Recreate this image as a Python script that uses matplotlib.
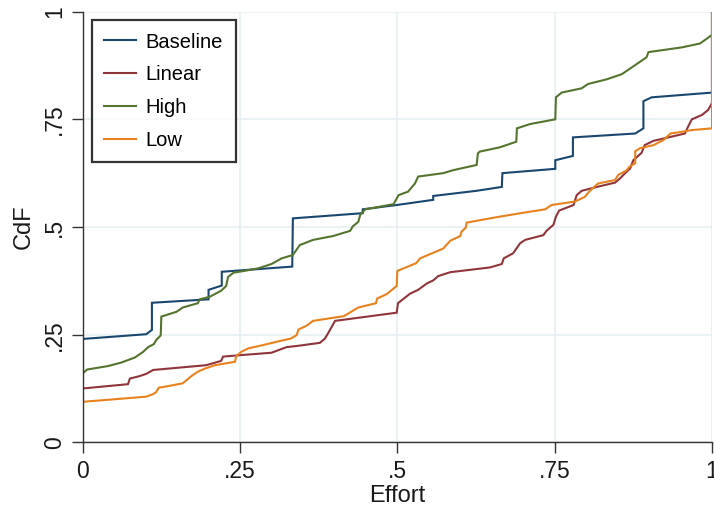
import matplotlib
matplotlib.use("Agg")
import matplotlib.pyplot as plt

plt.rcParams['font.family'] = ['Liberation Sans', 'DejaVu Sans']

# Baseline (x = effort, y = cumulative share)
base_x = [0, 0, 0.101, 0.110, 0.110, 0.200, 0.200, 0.221, 0.221, 0.333, 0.334, 0.445, 0.445,
          0.499, 0.557, 0.557, 0.626, 0.666, 0.667, 0.751, 0.751, 0.779, 0.779, 0.878, 0.891,
          0.891, 0.904, 1.0, 1.0]
base_y = [0, 0.240, 0.251, 0.261, 0.324, 0.332, 0.354, 0.364, 0.396, 0.408, 0.520, 0.532, 0.541,
          0.551, 0.563, 0.572, 0.584, 0.593, 0.625, 0.635, 0.655, 0.665, 0.708, 0.717, 0.729,
          0.792, 0.801, 0.812, 1.0]

lin_x = [0, 0, 0.072, 0.075, 0.091, 0.101, 0.112, 0.196, 0.220, 0.223, 0.247, 0.300, 0.324, 0.342,
         0.377, 0.385, 0.393, 0.401, 0.499, 0.501, 0.520, 0.533, 0.547, 0.557, 0.565, 0.584,
         0.647, 0.666, 0.669, 0.684, 0.695, 0.703, 0.732, 0.737, 0.748, 0.752, 0.757, 0.780,
         0.785, 0.793, 0.817, 0.846, 0.854, 0.862, 0.870, 0.875, 0.888, 0.893, 0.907, 0.957,
         0.962, 0.968, 0.984, 0.994, 1.0, 1.0]
lin_y = [0, 0.125, 0.135, 0.148, 0.154, 0.159, 0.168, 0.179, 0.189, 0.199, 0.202, 0.208, 0.221, 0.224,
         0.231, 0.241, 0.261, 0.282, 0.301, 0.323, 0.345, 0.354, 0.369, 0.376, 0.386, 0.395,
         0.406, 0.414, 0.427, 0.439, 0.462, 0.470, 0.481, 0.491, 0.505, 0.524, 0.538, 0.551,
         0.574, 0.584, 0.593, 0.603, 0.613, 0.625, 0.636, 0.655, 0.672, 0.690, 0.700, 0.717,
         0.733, 0.750, 0.760, 0.772, 0.788, 1.0]

high_x = [0, 0, 0.007, 0.040, 0.061, 0.083, 0.096, 0.104, 0.113, 0.117, 0.124, 0.125, 0.149, 0.159,
          0.183, 0.186, 0.202, 0.220, 0.228, 0.231, 0.240, 0.257, 0.279, 0.300, 0.316, 0.334,
          0.345, 0.366, 0.398, 0.425, 0.429, 0.438, 0.441, 0.449, 0.472, 0.494, 0.502, 0.517,
          0.528, 0.533, 0.573, 0.589, 0.626, 0.628, 0.631, 0.663, 0.689, 0.690, 0.711, 0.751,
          0.752, 0.761, 0.793, 0.803, 0.833, 0.857, 0.896, 0.899, 0.952, 0.981, 1.0, 1.0]
high_y = [0, 0.160, 0.169, 0.177, 0.185, 0.197, 0.210, 0.221, 0.228, 0.238, 0.248, 0.292, 0.303, 0.313,
          0.323, 0.332, 0.338, 0.352, 0.363, 0.384, 0.394, 0.398, 0.404, 0.414, 0.427, 0.435,
          0.458, 0.470, 0.479, 0.491, 0.501, 0.512, 0.528, 0.541, 0.547, 0.553, 0.574, 0.582,
          0.601, 0.617, 0.625, 0.632, 0.644, 0.671, 0.675, 0.685, 0.698, 0.729, 0.739, 0.750,
          0.801, 0.812, 0.822, 0.832, 0.843, 0.855, 0.894, 0.906, 0.917, 0.926, 0.946, 1.0]

low_x = [0, 0, 0.101, 0.112, 0.117, 0.121, 0.130, 0.159, 0.173, 0.183, 0.194, 0.210, 0.242, 0.244,
         0.252, 0.263, 0.287, 0.310, 0.331, 0.340, 0.343, 0.356, 0.366, 0.415, 0.438, 0.466,
         0.468, 0.483, 0.499, 0.500, 0.530, 0.536, 0.552, 0.573, 0.584, 0.600, 0.602, 0.609,
         0.610, 0.647, 0.663, 0.700, 0.735, 0.745, 0.782, 0.798, 0.806, 0.819, 0.846, 0.851,
         0.864, 0.869, 0.878, 0.878, 0.886, 0.907, 0.923, 0.934, 0.952, 0.968, 1.0, 1.0]
low_y = [0, 0.094, 0.106, 0.112, 0.117, 0.127, 0.129, 0.137, 0.154, 0.164, 0.171, 0.179, 0.187, 0.200,
         0.210, 0.218, 0.226, 0.234, 0.241, 0.249, 0.262, 0.271, 0.282, 0.293, 0.313, 0.323,
         0.334, 0.344, 0.363, 0.398, 0.416, 0.427, 0.437, 0.450, 0.468, 0.479, 0.489, 0.499,
         0.510, 0.520, 0.524, 0.533, 0.541, 0.551, 0.559, 0.570, 0.584, 0.601, 0.609, 0.621,
         0.631, 0.640, 0.648, 0.676, 0.683, 0.690, 0.702, 0.717, 0.721, 0.725, 0.729, 1.0]

series_names = ["Baseline", "Linear", "High", "Low"]
series_colors = ["#1a476f", "#90353b", "#55752f", "#e8821e"]
ticks = [0, 0.25, 0.5, 0.75, 1]
tick_labels = ["0", ".25", ".5", ".75", "1"]

fig = plt.figure(figsize=(7.14, 5.08), dpi=100)
ax = fig.add_axes([0.1158, 0.1293, 0.8814, 0.8478])

data = [(base_x, base_y), (lin_x, lin_y), (high_x, high_y), (low_x, low_y)]
for (xs, ys), name, col in zip(data, series_names, series_colors):
    ax.plot(xs, ys, color=col, lw=1.5, label=name, solid_joinstyle='miter')

ax.set_xlim(0, 1)
ax.set_ylim(0, 1)
ax.set_xticks(ticks)
ax.set_xticklabels(tick_labels)
ax.set_yticks(ticks)
ax.set_yticklabels(tick_labels, rotation=90, va='center')
ax.grid(True, color="#e6f0f2", lw=1.2)
ax.set_axisbelow(True)
for s in ["top", "right"]:
    ax.spines[s].set_visible(False)
for s in ["left", "bottom"]:
    ax.spines[s].set_color("#333333")
    ax.spines[s].set_linewidth(1.0)
ax.tick_params(direction='out', length=8, width=1.0, color="#333333",
               labelsize=16.5, labelcolor="#1a1a1a")
ax.tick_params(axis='x', pad=5)
ax.tick_params(axis='y', pad=4)
for lab in ax.get_xticklabels() + ax.get_yticklabels():
    lab.set_clip_on(False)

ax.set_xlabel("Effort", fontsize=17, labelpad=1, color="#1a1a1a")
ax.set_ylabel("CdF", fontsize=17, labelpad=6, color="#1a1a1a")

leg = ax.legend(loc='upper left', bbox_to_anchor=(0.0148, 0.9805), borderaxespad=0,
                fontsize=14.5, frameon=True, fancybox=False, edgecolor='black',
                handlelength=1.55, handletextpad=0.5, labelspacing=0.68,
                borderpad=0.62)
leg.get_frame().set_linewidth(1.6)

fig.savefig("out.png", dpi=100)
